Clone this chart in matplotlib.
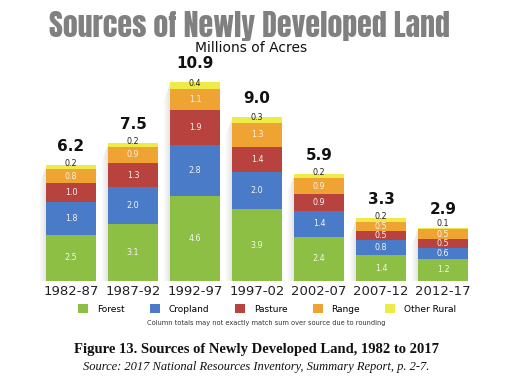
import matplotlib
matplotlib.use("Agg")
import matplotlib.pyplot as plt
import numpy as np
from matplotlib.patches import Patch

periods = ["1982-87", "1987-92", "1992-97", "1997-02", "2002-07", "2007-12", "2012-17"]
forest = [2.5, 3.1, 4.6, 3.9, 2.4, 1.4, 1.2]
cropland = [1.8, 2.0, 2.8, 2.0, 1.4, 0.8, 0.6]
pasture = [1.0, 1.3, 1.9, 1.4, 0.9, 0.5, 0.5]
rangeland = [0.8, 0.9, 1.1, 1.3, 0.9, 0.5, 0.5]
other = [0.2, 0.2, 0.4, 0.3, 0.2, 0.2, 0.1]
totals = [6.2, 7.5, 10.9, 9.0, 5.9, 3.3, 2.9]

series = [("Forest", forest, "#8dbf45", "#f4f4ee"),
          ("Cropland", cropland, "#4a7bc9", "#f4f4ee"),
          ("Pasture", pasture, "#b8423e", "#f4f4ee"),
          ("Range", rangeland, "#eea332", "#f8f4e8"),
          ("Other Rural", other, "#eeea48", "#222222")]

fig = plt.figure(figsize=(5.12, 3.91), dpi=100)
ax = fig.add_axes([40/512, 110/391, 434/512, 221/391])
x = np.arange(len(periods))
width = 0.8

# soft shadow on the left of each column
stack_top = np.sum([forest, cropland, pasture, rangeland, other], axis=0)
for xi, top in zip(x, stack_top):
    left = xi - width/2
    for k in range(6):
        w = 0.018
        xs = left - (k + 1) * w
        ax.fill([xs, xs + w, xs + w, xs], [0, 0, top - 0.15 * k - 0.1, top - 0.15 * (k + 1) - 0.1],
                color="#888888", alpha=0.22 * (1 - k / 6), lw=0, zorder=1)

bottom = np.zeros(len(periods))
for name, vals, col, tcol in series:
    vals = np.array(vals)
    ax.bar(x, vals, bottom=bottom, width=width, color=col, edgecolor="none", zorder=2)
    for xi, b, v in zip(x, bottom, vals):
        if name == "Other Rural":
            ypos = b + max(v / 2, 0.3)
        else:
            ypos = b + v / 2
        ax.text(xi, ypos, f"{v:.1f}", ha="center", va="center",
                fontsize=5.8, color=tcol, zorder=3)
    bottom += vals
for xi, top, t in zip(x, bottom, totals):
    ax.text(xi, top + 0.6, f"{t:.1f}", ha="center", va="bottom",
            fontsize=11, fontweight="bold", color="#111111")
ax.set_xlim(-0.5, 6.5)
ax.set_ylim(0, 12)
ax.set_xticks(x)
ax.set_xticklabels(periods, fontsize=9.5, color="#222222")
ax.tick_params(axis="x", length=0, pad=3)
ax.set_yticks([])
for s in ax.spines.values():
    s.set_visible(False)

fig.text(0.488, 1 - 26/391, "Sources of Newly Developed Land", ha="center", va="center",
         fontsize=21.5, color="#808080",
         family=["Anton", "Oswald", "DejaVu Sans"])
fig.text(0.49, 1 - 48/391, "Millions of Acres", ha="center", va="center",
         fontsize=10, color="#111111")

handles = [Patch(facecolor=c, edgecolor="none", label=n) for n, _, c, _ in series]
fig.legend(handles=handles, loc="center", bbox_to_anchor=(0.522, 1 - 309/391), ncol=5,
           frameon=False, fontsize=6.5, handlelength=1.1, handleheight=1.1,
           columnspacing=2.8, handletextpad=1.0)
fig.text(0.52, 1 - 323/391, "Column totals may not exactly match sum over source due to rounding",
         ha="center", va="center", fontsize=4.8, color="#333333")
fig.text(0.5, 1 - 350/391, "Figure 13. Sources of Newly Developed Land, 1982 to 2017",
         ha="center", va="center", fontsize=10.5, fontweight="bold", color="#111111",
         family=["Liberation Serif", "DejaVu Serif"])
fig.text(0.5, 1 - 367/391, "Source: 2017 National Resources Inventory, Summary Report, p. 2-7.",
         ha="center", va="center", fontsize=9, style="italic", color="#111111",
         family=["Liberation Serif", "DejaVu Serif"])
fig.savefig("out.png", dpi=100)
